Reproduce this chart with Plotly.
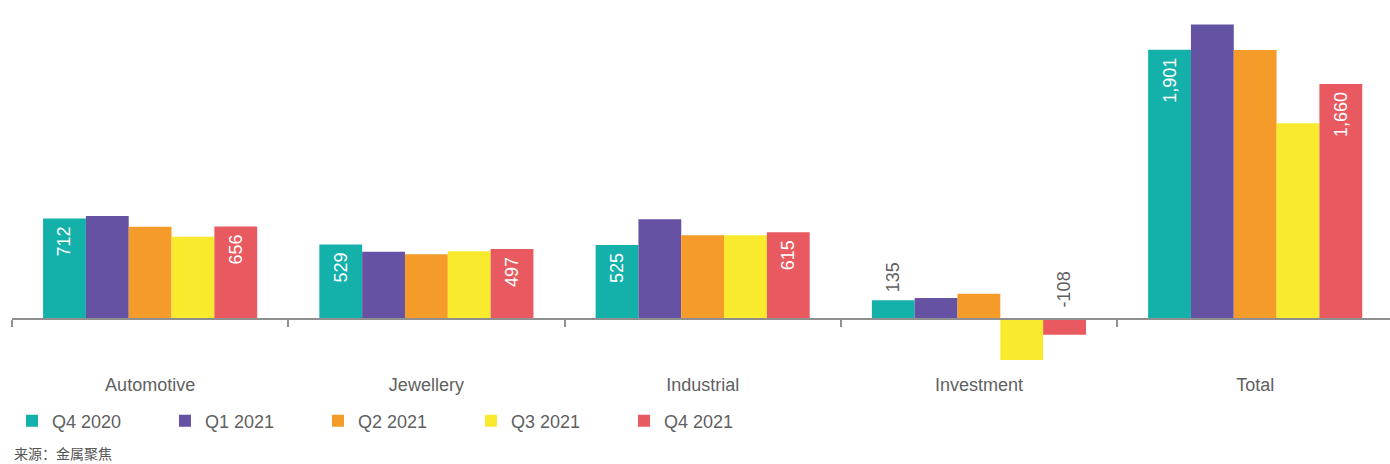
import plotly.graph_objects as go

categories = ["Automotive", "Jewellery", "Industrial", "Investment", "Total"]
quarters = ["Q4 2020", "Q1 2021", "Q2 2021", "Q3 2021", "Q4 2021"]
q4_2020 = [712, 529, 525, 135, 1901]
q1_2021 = [729, 478, 706, 151, 2080]
q2_2021 = [653, 460, 593, 182, 1900]
q3_2021 = [583, 480, 593, -285, 1383]
q4_2021 = [656, 497, 615, -108, 1660]
colors = ["#14B0AA", "#6552A3", "#F59B29", "#F9EA2E", "#E95A60"]
labelled = {"Q4 2020", "Q4 2021"}

series = [q4_2020, q1_2021, q2_2021, q3_2021, q4_2021]

W, H = 1390, 464
ML, MR, MT, MB = 12, 0, 0, 99
PH = H - MT - MB
YMIN, YMAX = -321, 2252
zero_pos = -YMIN / (YMAX - YMIN)

TXT = "#5f5f5f"
FONT = "Arial, Liberation Sans, sans-serif"
NB = "\u00a0"  # small gap between label and bar edge

fig = go.Figure()
annotations = []
n = len(quarters)
for qi, (name, vals, col) in enumerate(zip(quarters, series, colors)):
    texts, positions = [], []
    for ci, v in enumerate(vals):
        lab = f"{v:,}" if name in labelled else ""
        if v < 0 and lab:
            # negative values are labelled above the zero line
            annotations.append(dict(
                x=categories[ci], y=0, xref="x", yref="y", text=lab,
                textangle=-90, showarrow=False, yanchor="bottom",
                xshift=(qi - (n - 1) / 2) * 43, yshift=10,
                font=dict(size=18, color=TXT, family=FONT)))
            lab = ""
        outside = 0 <= v < 300
        if lab:
            lab = NB + lab if outside else lab + NB
        texts.append(lab)
        positions.append("outside" if outside else "inside")
    fig.add_trace(go.Bar(
        name=name, x=categories, y=vals, marker=dict(color=col, line=dict(width=0)),
        text=texts, textposition=positions, textangle=-90,
        insidetextanchor="end", constraintext="none", cliponaxis=False,
        insidetextfont=dict(color="white", size=18, family=FONT),
        outsidetextfont=dict(color=TXT, size=18, family=FONT),
        hoverinfo="skip"))

# source line below the legend
annotations.append(dict(
    x=0, y=-(453 - PH) / PH, xref="paper", yref="paper",
    text="来源：金属聚焦", showarrow=False, xanchor="left", yanchor="middle",
    font=dict(size=14, color="#555555", family="Noto Sans CJK SC")))

fig.update_layout(
    width=W, height=H,
    margin=dict(l=ML, r=MR, t=MT, b=MB, pad=0),
    paper_bgcolor="white", plot_bgcolor="white",
    barmode="group", bargap=0.225, bargroupgap=0,
    font=dict(family=FONT, color=TXT, size=18),
    showlegend=True,
    legend=dict(orientation="h", x=0, xanchor="left",
                y=-(421 - PH) / PH, yanchor="middle",
                font=dict(size=18, color=TXT, family=FONT),
                entrywidth=108, entrywidthmode="pixels",
                itemwidth=30, traceorder="normal"),
    xaxis=dict(type="category", anchor="free", position=zero_pos,
               range=[-0.5, 4.488],
               showline=True, linecolor="#8f8f8f", linewidth=1.6,
               ticks="outside", tickson="boundaries", ticklen=7,
               tickcolor="#8f8f8f", tickwidth=1.6,
               ticklabelstandoff=49, showgrid=False, zeroline=False,
               tickfont=dict(size=18, color=TXT, family=FONT)),
    yaxis=dict(range=[YMIN, YMAX], visible=False, showgrid=False,
               zeroline=False),
    annotations=annotations,
)

fig.write_html("out.html")
